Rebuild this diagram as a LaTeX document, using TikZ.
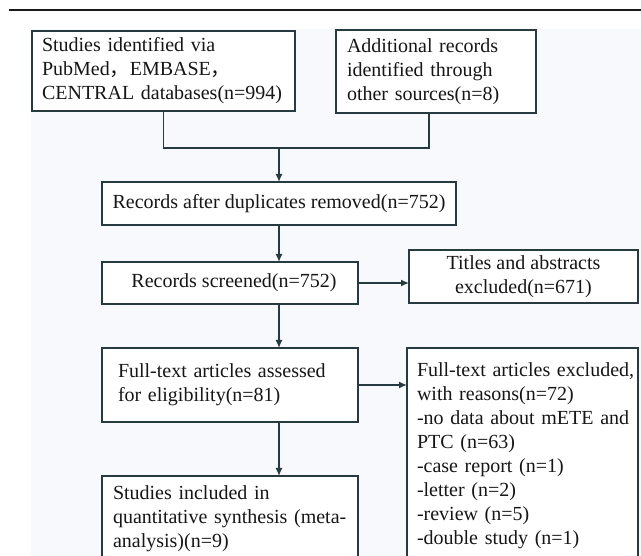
\documentclass[tikz,border=0pt]{standalone}
\usepackage{fontspec}
\setmainfont{Liberation Serif}
\newfontfamily\cjkfont{Noto Sans CJK SC}
\usetikzlibrary{arrows.meta}
\definecolor{boxline}{RGB}{38,58,64}
\definecolor{bgpanel}{RGB}{247,249,252}
\definecolor{inkc}{RGB}{22,22,22}
\hyphenpenalty=10000
\exhyphenpenalty=10000
\begin{document}
\begin{tikzpicture}[x=1pt,y=-1pt,
  box/.style={draw=boxline, line width=1.6pt, fill=white, text=inkc,
    font=\fontsize{20pt}{24pt}\selectfont, anchor=north west,
    inner ysep=0pt, outer sep=0pt},
  conn/.style={draw=boxline, line width=1.4pt},
  arr/.style={conn, -{Latex[length=8pt,width=7pt]}}]
\useasboundingbox (0,0) rectangle (641,556);
\clip (0,0) rectangle (641,556);
\fill[bgpanel] (31,29) rectangle (641,556);
\draw[line width=2pt, black!90] (9,10) -- (641,10);

\node[box, text width=243pt, inner xsep=10pt, minimum height=80pt, align=left] (b1) at (32,31)
  {\mbox{Studies identified via}\\\mbox{PubMed{\cjkfont ，}EMBASE{\cjkfont ，}}\\\mbox{CENTRAL databases(n=994)}};
\node[box, text width=178pt, inner xsep=11pt, minimum height=83pt, align=left] (b2) at (336,30)
  {\mbox{Additional records}\\\mbox{identified through}\\\mbox{other sources(n=8)}};
\node[box, minimum width=354pt, minimum height=43pt, align=center] (b3) at (102,182)
  {Records after duplicates removed(n=752)};
\node[box, minimum width=256pt, minimum height=42pt, align=center] (b4) at (102,262)
  {\hspace*{8pt}Records screened(n=752)};
\node[box, minimum width=229pt, minimum height=53pt, align=center] (b5) at (409,250)
  {Titles and abstracts\\excluded(n=671)};
\node[box, text width=224pt, inner xsep=16pt, minimum height=74pt, align=left] (b6) at (102,348)
  {\mbox{Full-text articles assessed}\\\mbox{for eligibility(n=81)}};
\node[box, text width=221pt, inner xsep=5pt, minimum height=216pt, align=left] (b7) at (407,348)
  {\hspace*{5pt}\mbox{Full-text articles excluded,}\\\hspace*{5pt}\mbox{with reasons(n=72)}\\\hspace*{5pt}\mbox{-no data about mETE and}\\\hspace*{5pt}\mbox{PTC (n=63)}\\\hspace*{5pt}\mbox{-case report (n=1)}\\\hspace*{5pt}\mbox{-letter (n=2)}\\\hspace*{5pt}\mbox{-review (n=5)}\\\hspace*{5pt}\mbox{-double study (n=1)}};
\node[box, text width=234pt, inner xsep=11pt, minimum height=86pt, align=left] (b8) at (102,476)
  {\mbox{Studies included in}\\\mbox{quantitative synthesis (meta-}\\\mbox{analysis)(n=9)}};

\coordinate (join) at (279,148);
\draw[conn] (b1.south) |- (join);
\draw[conn] ([xshift=-7pt]b2.south) |- (join);
\draw[arr] (join) -- (b3.north);
\draw[arr] (b3.south) -- (b3.south |- b4.north);
\draw[arr] (b4.east) -- (b4.east -| b5.west);
\draw[arr] (b3.south |- b4.south) -- (b3.south |- b6.north);
\draw[arr] (b6.east) -- (b6.east -| b7.west);
\draw[arr] (b3.south |- b6.south) -- (b3.south |- b8.north);
\end{tikzpicture}
\end{document}
